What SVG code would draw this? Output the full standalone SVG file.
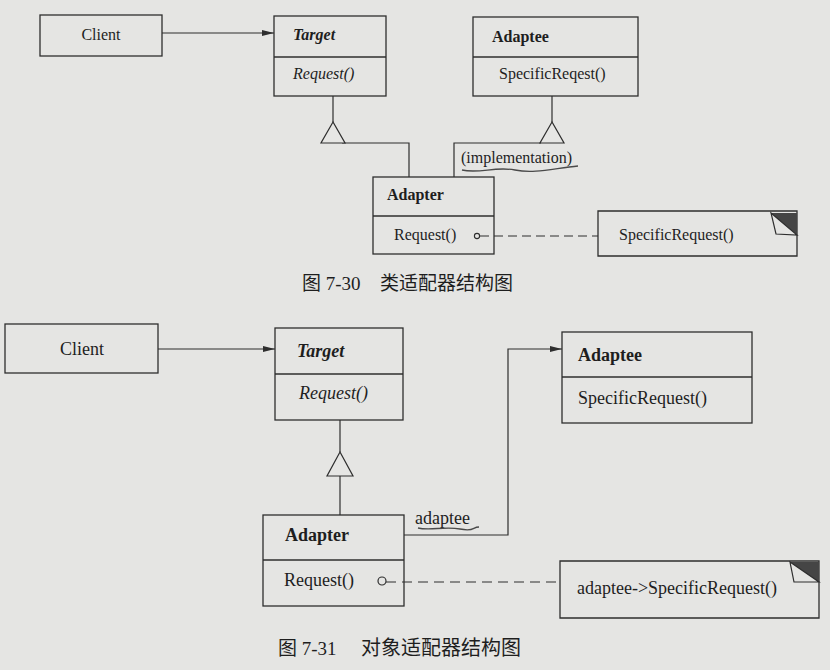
<svg xmlns="http://www.w3.org/2000/svg" width="830" height="670" viewBox="0 0 830 670">
<defs>
<style>
.box{fill:none;stroke:#2e2e2e;stroke-width:1.3}
.ln{fill:none;stroke:#2e2e2e;stroke-width:1.2}
.dash{fill:none;stroke:#2e2e2e;stroke-width:1.2;stroke-dasharray:9 5}
.tri{fill:#e6e6e4;stroke:#2e2e2e;stroke-width:1.2}
.t{font-family:"Liberation Serif","Times New Roman",serif;fill:#1e1e1e}
.s1{font-size:16px}
.s2{font-size:18px}
.b{font-weight:bold}
.i{font-style:italic}
.cap{font-family:"Liberation Serif","Noto Sans CJK SC",serif;fill:#1e1e1e;font-size:19px}
.pen{fill:none;stroke:#4a4a4a;stroke-width:1.3}
</style>
<marker id="arr" viewBox="0 0 12 6" refX="12" refY="3" markerWidth="12" markerHeight="6" markerUnits="userSpaceOnUse" orient="auto">
<path d="M0,0 L12,3 L0,6 Z" fill="#2e2e2e"/>
</marker>
</defs>
<rect width="830" height="670" fill="#e5e5e3"/>

<!-- ===== Figure 7-30 ===== -->
<g id="connectors-730">
<line class="ln" x1="162" y1="33" x2="274" y2="33" marker-end="url(#arr)"/>
<path class="ln" d="M333,96 V122"/>
<path class="ln" d="M342,143 H409 V177"/>
<polygon class="tri" points="333,122 321,143 345,143"/>
<path class="ln" d="M552,96 V122"/>
<path class="ln" d="M541,143 H454 V177"/>
<polygon class="tri" points="552,122 540,143 564,143"/>
<text class="t s1" x="461" y="163">(implementation)</text>
<path class="pen" d="M462,170 C480,174 495,166 515,170 S555,168 578,166"/>
<circle cx="477" cy="236" r="2.6" fill="none" stroke="#2e2e2e" stroke-width="1.1"/>
<line class="dash" x1="480" y1="236" x2="598" y2="236"/>
</g>

<g id="client-730">
<rect class="box" x="40" y="15" width="122" height="41"/>
<text class="t s1" x="101" y="40" text-anchor="middle">Client</text>
</g>

<g id="target-730">
<rect class="box" x="274" y="16" width="112" height="80"/>
<line class="box" x1="274" y1="57" x2="386" y2="57"/>
<text class="t s1 b i" x="293" y="40">Target</text>
<text class="t s1 i" x="293" y="79">Request()</text>
</g>

<g id="adaptee-730">
<rect class="box" x="473" y="17" width="165" height="79"/>
<line class="box" x1="473" y1="57" x2="638" y2="57"/>
<text class="t s1 b" x="492" y="42">Adaptee</text>
<text class="t s1" x="499" y="79">SpecificReqest()</text>
</g>

<g id="adapter-730">
<rect class="box" x="373" y="177" width="121" height="77"/>
<line class="box" x1="373" y1="216" x2="494" y2="216"/>
<text class="t s1 b" x="387" y="200">Adapter</text>
<text class="t s1" x="394" y="240">Request()</text>
</g>

<g id="note-730">
<path class="box" d="M598,211 H797 V256 H598 Z"/>
<polygon points="771,213 797,213 797,235" fill="#454545"/>
<polygon class="ln" points="771,213 797,235 776,234"/>
<text class="t s1" x="619" y="240">SpecificRequest()</text>
</g>

<g id="caption-730">
<text class="cap" x="302" y="290">图 7-30</text>
<text class="cap" x="380" y="290">类适配器结构图</text>
</g>

<!-- ===== Figure 7-31 ===== -->
<g id="connectors-731">
<line class="ln" x1="158" y1="349" x2="275" y2="349" marker-end="url(#arr)"/>
<path class="ln" d="M340,420 V452"/>
<polygon class="tri" points="340,452 327,476 353,476"/>
<path class="ln" d="M340,476 V515"/>
<path class="ln" d="M404,535 H508 V349 H562" marker-end="url(#arr)"/>
<text class="t s2" x="415" y="524">adaptee</text>
<path class="pen" d="M418,528 C430,531 445,526 460,529 S472,527 479,527"/>
<circle cx="382" cy="581" r="4" fill="none" stroke="#2e2e2e" stroke-width="1.2"/>
<line class="dash" x1="386" y1="582" x2="560" y2="582" style="stroke-dasharray:10 6"/>
</g>

<g id="client-731">
<rect class="box" x="5" y="324" width="153" height="49"/>
<text class="t s2" x="82" y="355" text-anchor="middle">Client</text>
</g>

<g id="target-731">
<rect class="box" x="275" y="328" width="128" height="92"/>
<line class="box" x1="275" y1="374" x2="403" y2="374"/>
<text class="t s2 b i" x="297" y="357">Target</text>
<text class="t s2 i" x="299" y="399">Request()</text>
</g>

<g id="adaptee-731">
<rect class="box" x="562" y="332" width="190" height="91"/>
<line class="box" x1="562" y1="377" x2="752" y2="377"/>
<text class="t s2 b" x="578" y="361">Adaptee</text>
<text class="t s2" x="578" y="404">SpecificRequest()</text>
</g>

<g id="adapter-731">
<rect class="box" x="263" y="515" width="141" height="91"/>
<line class="box" x1="263" y1="560" x2="404" y2="560"/>
<text class="t s2 b" x="285" y="541">Adapter</text>
<text class="t s2" x="284" y="586">Request()</text>
</g>

<g id="note-731">
<path class="box" d="M560,561 H819 V618 H560 Z"/>
<polygon points="790,562 819,562 819,582" fill="#454545"/>
<polygon class="ln" points="790,562 819,582 794,582"/>
<text class="t s2" x="577" y="594">adaptee-&gt;SpecificRequest()</text>
</g>

<g id="caption-731">
<text class="cap" x="278" y="655">图 7-31</text>
<text class="cap" x="361" y="655" style="font-size:20px">对象适配器结构图</text>
</g>
</svg>
